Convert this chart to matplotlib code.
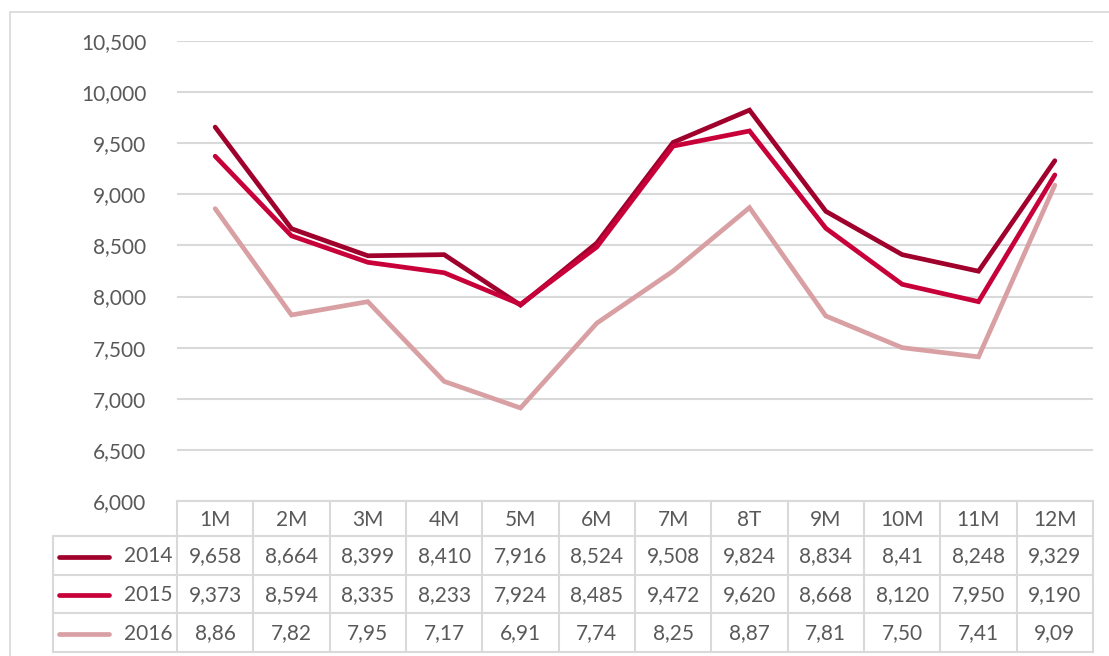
import matplotlib.pyplot as plt
from matplotlib.patches import Rectangle

# Monthly values (table shows values as printed in the source sheet)
months = ["1M", "2M", "3M", "4M", "5M", "6M", "7M", "8T", "9M", "10M", "11M", "12M"]
years = ["2014", "2015", "2016"]
v2014 = [9658, 8664, 8399, 8410, 7916, 8524, 9508, 9824, 8834, 8410, 8248, 9329]
v2015 = [9373, 8594, 8335, 8233, 7924, 8485, 9472, 9620, 8668, 8120, 7950, 9190]
v2016 = [8860, 7820, 7950, 7170, 6910, 7740, 8250, 8870, 7810, 7500, 7410, 9090]
t2014 = ["9,658", "8,664", "8,399", "8,410", "7,916", "8,524", "9,508", "9,824", "8,834", "8,41", "8,248", "9,329"]
t2015 = ["9,373", "8,594", "8,335", "8,233", "7,924", "8,485", "9,472", "9,620", "8,668", "8,120", "7,950", "9,190"]
t2016 = ["8,86", "7,82", "7,95", "7,17", "6,91", "7,74", "8,25", "8,87", "7,81", "7,50", "7,41", "9,09"]
colors = ["#A0002C", "#C8003A", "#D9A0A4"]

W, H = 1109, 656
TXT = "#595959"
GRID = "#D9D9D9"
plt.rcParams["font.family"] = ["Lato", "DejaVu Sans"]

fig = plt.figure(figsize=(W / 100, H / 100), dpi=100)

# outer chart border
fig.patches.append(Rectangle((10 / W, -0.1), 1.2, 1 - 12 / H + 0.1, transform=fig.transFigure,
                             fill=False, edgecolor=GRID, linewidth=1.2))

x0, x1 = 177, 1093
ytop, ybot = 41, 501
ax = fig.add_axes([x0 / W, 1 - ybot / H, (x1 - x0) / W, (ybot - ytop) / H])
xs = list(range(len(months)))
for vals, c in zip([v2014, v2015, v2016], colors):
    ax.plot(xs, vals, color=c, linewidth=3.4, solid_capstyle="round", solid_joinstyle="miter", zorder=3)

ax.set_xlim(-0.5, len(months) - 0.5)
ax.set_ylim(6000, 10500)
ax.set_yticks(range(6000, 10501, 500))
ax.set_yticklabels([f"{v:,}" for v in range(6000, 10501, 500)])
ax.set_xticks([])
ax.tick_params(axis="y", length=0, pad=22, labelsize=15, labelcolor=TXT)
ax.grid(axis="y", color=GRID, linewidth=1.5)
for s in ax.spines.values():
    s.set_visible(False)

# data table below the plot
colw = (x1 - x0) / len(months)
leg_w = (x0 - 53) / colw
rows_y = [501, 536, 575, 613, 652]
tab = fig.add_axes([53 / W, 1 - 652 / H, (x1 - 53) / W, (652 - 501) / H])
tab.set_xlim(-0.5 - leg_w, len(months) - 0.5)
tab.set_ylim(652, 501)
tab.axis("off")
lw = 1.5
# header row
for i in range(len(months) + 1):
    tab.plot([i - 0.5, i - 0.5], [rows_y[0], rows_y[-1]], color=GRID, lw=lw, clip_on=False)
tab.plot([-0.5 - leg_w, -0.5 - leg_w], [rows_y[1], rows_y[-1]], color=GRID, lw=lw, clip_on=False)
tab.plot([-0.5, len(months) - 0.5], [rows_y[0], rows_y[0]], color=GRID, lw=lw, clip_on=False)
for y in rows_y[1:]:
    tab.plot([-0.5 - leg_w, len(months) - 0.5], [y, y], color=GRID, lw=lw, clip_on=False)
for i, m in enumerate(months):
    tab.text(i, (rows_y[0] + rows_y[1]) / 2 + 1, m, ha="center", va="center", fontsize=15, color=TXT)
for r, (yr, labels, c) in enumerate(zip(years, [t2014, t2015, t2016], colors)):
    yc = (rows_y[r + 1] + rows_y[r + 2]) / 2 + 1
    lx0 = -0.5 - leg_w + 6 / colw
    tab.plot([lx0, lx0 + 50 / colw], [yc, yc], color=c, lw=3.4, solid_capstyle="round", clip_on=False)
    tab.text(-0.5 - 4 / colw, yc, yr, ha="right", va="center", fontsize=15, color=TXT)
    for i, t in enumerate(labels):
        tab.text(i, yc, t, ha="center", va="center", fontsize=15, color=TXT)

fig.savefig("out.png", dpi=100)
